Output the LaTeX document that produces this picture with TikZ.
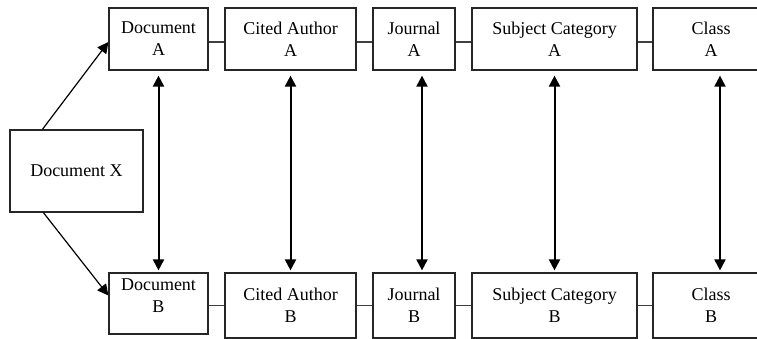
\documentclass[tikz,border=0pt]{standalone}
\usepackage{fontspec}
\setmainfont{Liberation Serif}
\usetikzlibrary{arrows.meta}
\begin{document}
\begin{tikzpicture}[x=1pt,y=-1pt,
    cell/.style={draw=black!85,line width=1.2pt,align=center,inner sep=0pt,font=\fontsize{18}{22}\selectfont},
    tie/.style={draw=black!75,line width=1.4pt},
    tip/.style={-{Triangle[width=11pt,length=11pt]},line width=1.2pt},
    both/.style={{Triangle[width=11pt,length=11pt]}-{Triangle[width=11pt,length=11pt]},line width=2pt,shorten <=5pt,shorten >=2pt}]
  \useasboundingbox (0,0) rectangle (757,338);

  \node[cell,minimum width=133pt,minimum height=82pt] (docX) at (76.5,171) {Document X};

  \node[cell,minimum width=99pt,minimum height=62pt] (docA) at (158.5,39) {Document\\A};
  \node[cell,minimum width=131pt,minimum height=62pt] (citA) at (290.5,39) {Cited Author\\A};
  \node[cell,minimum width=82pt,minimum height=62pt] (jouA) at (414,39) {Journal\\A};
  \node[cell,minimum width=165pt,minimum height=62pt] (subA) at (554.5,39) {Subject Category\\A};
  \node[cell,minimum width=116pt,minimum height=62pt] (claA) at (711,39) {Class\\A};

  \node[cell,minimum width=99pt,minimum height=61pt,text depth=16pt] (docB) at (158.5,303.5) {Document\\B};
  \node[cell,minimum width=131pt,minimum height=65pt] (citB) at (290.5,305.5) {Cited Author\\B};
  \node[cell,minimum width=82pt,minimum height=65pt] (jouB) at (414,305.5) {Journal\\B};
  \node[cell,minimum width=165pt,minimum height=65pt] (subB) at (554.5,305.5) {Subject Category\\B};
  \node[cell,minimum width=116pt,minimum height=65pt] (claB) at (711,305.5) {Class\\B};

  \foreach \a/\b in {docA/citA,citA/jouA,jouA/subA,subA/claA}
    \draw[tie] ([yshift=-3pt]\a.east) -- ([yshift=-3pt]\b.west);
  \foreach \a/\b in {docB/citB,citB/jouB,jouB/subB,subB/claB}
    \draw[tie] (\b.west -| \a.east) -- (\b.west);

  \draw[tip] ([xshift=33pt]docX.north west) -- ([yshift=-3pt]docA.west);
  \draw[tip] ([xshift=34pt]docX.south west) -- ([yshift=8pt]docB.west);

  \foreach \n/\s in {doc/0,cit/0,jou/8,sub/0,cla/9}
    \draw[both] ([xshift=\s pt]\n A.south) -- ([xshift=\s pt]\n B.north);
\end{tikzpicture}
\end{document}
